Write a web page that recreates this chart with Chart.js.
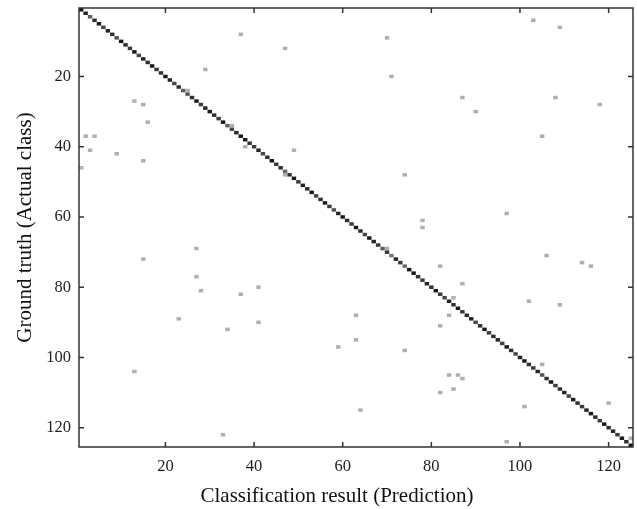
<!DOCTYPE html>
<html lang="en">
<head>
  <meta charset="UTF-8" />
  <title>Confusion matrix</title>
  <script src="https://cdn.jsdelivr.net/npm/chart.js@4.4.1/dist/chart.umd.min.js"></script>
  <style>
    html, body { margin: 0; padding: 0; background: #fff; }
    .wrap { width: 637px; height: 509px; }
  </style>
</head>
<body>
<div class="wrap"><canvas id="cm" width="637" height="509"></canvas></div>

<script>
  // 125 classes, rows = actual class, columns = predicted class
  const classCount = 125;
  const tickValues = [20, 40, 60, 80, 100, 120];

  // share of correct predictions per class (diagonal)
  const diagonalShare = [
    1.0, 0.95, 0.7, 0.9, 1.0, 0.8, 0.95, 0.9, 0.75, 1.0,
    0.9, 0.85, 1.0, 0.8, 0.95, 0.9, 1.0, 0.85, 0.9, 1.0,
    0.95, 0.8, 0.9, 0.7, 0.75, 0.9, 1.0, 0.85, 0.95, 1.0,
    0.9, 0.85, 1.0, 0.7, 0.8, 0.95, 1.0, 1.0, 0.9, 0.85,
    0.95, 0.8, 0.9, 1.0, 0.85, 0.9, 0.65, 0.9, 1.0, 0.85,
    0.95, 0.9, 1.0, 0.8, 0.9, 1.0, 0.85, 0.75, 0.95, 1.0,
    0.9, 0.85, 1.0, 0.9, 0.8, 1.0, 0.95, 0.85, 0.7, 0.9,
    0.6, 0.95, 0.85, 0.65, 1.0, 1.0, 0.9, 0.85, 0.95, 0.9,
    1.0, 0.85, 0.8, 0.95, 0.9, 1.0, 0.85, 0.9, 0.95, 0.8,
    0.9, 1.0, 0.85, 0.9, 0.95, 0.85, 1.0, 0.9, 0.8, 0.95,
    1.0, 0.9, 0.85, 0.95, 0.75, 0.9, 1.0, 0.85, 0.9, 0.95,
    0.8, 1.0, 0.9, 0.85, 0.95, 1.0, 0.9, 0.85, 1.0, 0.9,
    0.95, 0.85, 1.0, 0.9, 1.0
  ];

  // misclassifications: predicted column, actual row, share
  const confusedPredicted = [
    37, 29, 13, 15, 16, 2, 4, 3, 1, 9, 15, 15, 13, 33, 64, 101, 97, 120,
    47, 70, 71, 87, 49, 103, 109, 108, 90, 118, 105,
    27, 27, 28, 37, 41, 23, 41, 34,
    74, 78, 78, 82, 63, 63, 59, 74, 84, 82, 84, 82,
    97, 106, 114, 116, 87, 102, 109, 86, 87, 85, 105,
    25, 35, 38, 47, 70, 85, 125
  ];
  const confusedActual = [
    8, 18, 27, 28, 33, 37, 37, 41, 46, 42, 44, 72, 104, 122, 115, 114, 124, 113,
    12, 9, 20, 26, 41, 4, 6, 26, 30, 28, 37,
    69, 77, 81, 82, 80, 89, 90, 92,
    48, 61, 63, 74, 88, 95, 97, 98, 88, 91, 105, 110,
    59, 71, 73, 74, 79, 84, 85, 105, 106, 109, 102,
    24, 34, 40, 48, 69, 83, 123
  ];
  const confusedShare = confusedPredicted.map(() => 0.35);

  const cells = [];
  for (let i = 0; i < classCount; i++) {
    cells.push({ x: i + 1, y: i + 1, v: diagonalShare[i] });
  }
  for (let i = 0; i < confusedPredicted.length; i++) {
    cells.push({ x: confusedPredicted[i], y: confusedActual[i], v: confusedShare[i] });
  }

  function cellColor(v) {
    const g = Math.round(255 * (1 - v * 0.9));
    return 'rgb(' + g + ',' + g + ',' + g + ')';
  }

  // fills one rectangle per matrix cell using the chart scales
  const cellPlugin = {
    id: 'cells',
    beforeDatasetsDraw(chart) {
      const { ctx, scales: { x, y }, chartArea } = chart;
      ctx.save();
      ctx.beginPath();
      ctx.rect(chartArea.left, chartArea.top, chartArea.right - chartArea.left, chartArea.bottom - chartArea.top);
      ctx.clip();
      chart.data.datasets[0].data.forEach(c => {
        const x0 = x.getPixelForValue(c.x - 0.5);
        const x1 = x.getPixelForValue(c.x + 0.5);
        const y0 = y.getPixelForValue(c.y - 0.5);
        const y1 = y.getPixelForValue(c.y + 0.5);
        ctx.fillStyle = cellColor(c.v);
        ctx.fillRect(Math.min(x0, x1), Math.min(y0, y1), Math.abs(x1 - x0), Math.abs(y1 - y0));
      });
      ctx.restore();
    },
    afterDraw(chart) {
      const { ctx, scales: { x, y }, chartArea: a } = chart;
      ctx.save();
      ctx.strokeStyle = '#333';
      ctx.lineWidth = 1.5;
      ctx.strokeRect(a.left, a.top, a.right - a.left, a.bottom - a.top);
      // inward tick marks on all four sides
      ctx.beginPath();
      tickValues.forEach(v => {
        const px = x.getPixelForValue(v);
        ctx.moveTo(px, a.bottom); ctx.lineTo(px, a.bottom - 5);
        ctx.moveTo(px, a.top); ctx.lineTo(px, a.top + 5);
        const py = y.getPixelForValue(v);
        ctx.moveTo(a.left, py); ctx.lineTo(a.left + 5, py);
        ctx.moveTo(a.right, py); ctx.lineTo(a.right - 5, py);
      });
      ctx.stroke();
      // x axis title
      ctx.fillStyle = '#111';
      ctx.font = '21px "Liberation Serif"';
      ctx.textAlign = 'center';
      ctx.textBaseline = 'middle';
      ctx.fillText('Classification result (Prediction)', 337, 496);
      ctx.restore();
    }
  };

  const tickFont = { family: 'Liberation Serif', size: 16.5 };

  new Chart(document.getElementById('cm'), {
    type: 'scatter',
    data: {
      datasets: [{
        data: cells,
        pointRadius: 0,
        pointHoverRadius: 0
      }]
    },
    options: {
      responsive: false,
      animation: false,
      events: [],
      layout: { padding: { top: 8, right: 4, left: 0, bottom: 0 } },
      plugins: { legend: { display: false }, tooltip: { enabled: false } },
      scales: {
        x: {
          type: 'linear',
          min: 0.5,
          max: classCount + 0.5,
          afterBuildTicks: s => { s.ticks = tickValues.map(v => ({ value: v })); },
          afterFit: s => { s.height = 62; s.paddingLeft = 0; s.paddingRight = 0; },
          ticks: { color: '#222', font: tickFont, padding: 10, maxRotation: 0 },
          grid: { display: false, drawTicks: false },
          border: { display: false }
        },
        y: {
          type: 'linear',
          reverse: true,
          min: 0.5,
          max: classCount + 0.5,
          afterBuildTicks: s => { s.ticks = tickValues.map(v => ({ value: v })); },
          afterFit: s => { s.width = 79; s.paddingTop = 0; s.paddingBottom = 0; },
          ticks: { color: '#222', font: tickFont, padding: 8 },
          grid: { display: false, drawTicks: false },
          border: { display: false },
          title: {
            display: true,
            text: 'Ground truth (Actual class)',
            color: '#111',
            font: { family: 'Liberation Serif', size: 21 },
            padding: { top: 13, bottom: 0 }
          }
        }
      }
    },
    plugins: [cellPlugin]
  });
</script>
</body>
</html>
